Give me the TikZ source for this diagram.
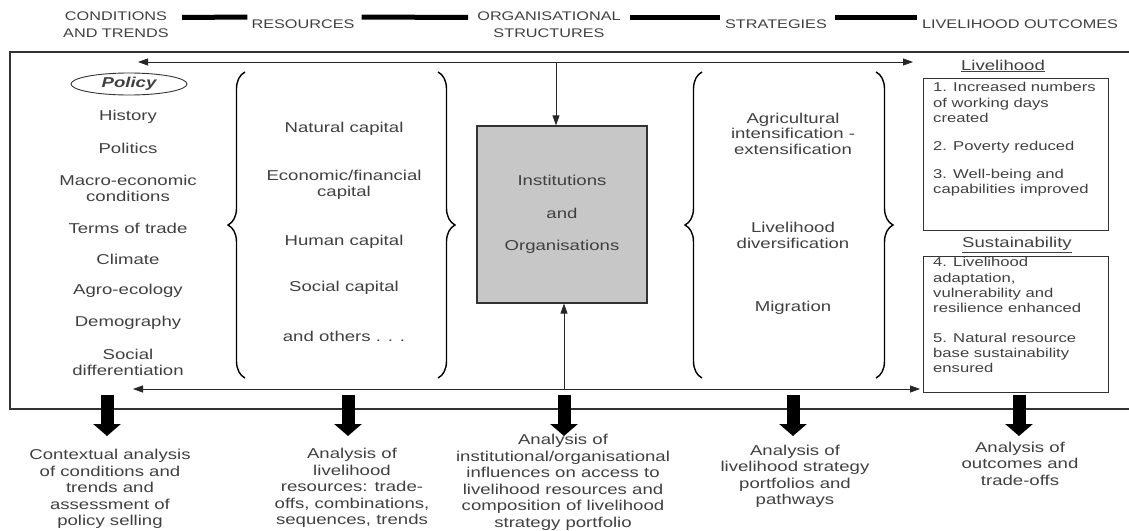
\documentclass[tikz,border=0pt]{standalone}
\usepackage{fontspec}
\setmainfont[FakeStretch=1.3]{Liberation Sans}
\usetikzlibrary{arrows.meta,shapes.geometric,decorations.pathreplacing,positioning}
\definecolor{txtgray}{gray}{0.25}
\definecolor{boxgray}{gray}{0.78}
\tikzset{
	lbl/.style={text=txtgray,font=\fontsize{14.3}{16.5}\selectfont,align=center,inner sep=0pt},
	head/.style={text=txtgray,font=\fontsize{12.5}{17}\selectfont,align=center,inner sep=0pt},
	outc/.style={text=txtgray,font=\fontsize{12.8}{15.3}\selectfont,align=left,anchor=north west,inner sep=0pt},
	thinarrow/.style={draw=black!85,line width=0.8pt,-{Triangle[length=10pt,width=7pt]}},
	bigarrow/.style={line width=13pt,-{Triangle[length=12pt,width=27pt]}},
	hbar/.style={line width=5pt},
	curly/.style={decorate,decoration={brace,amplitude=17pt},line width=1.4pt},
	outbox/.style={draw=black!80,line width=1pt,anchor=north west,inner sep=0pt},
}
\begin{document}
\begin{tikzpicture}[x=1pt,y=-1pt]
	\useasboundingbox (0,0) rectangle (1129,530);
	% column heads
	\node[head] (hd1) at (116,24.5) {CONDITIONS\\AND TRENDS};
	\node[head] (hd2) at (303,24) {RESOURCES};
	\node[head] (hd3) at (549,24.5) {ORGANISATIONAL\\STRUCTURES};
	\node[head] (hd4) at (776,24) {STRATEGIES};
	\node[head] (hd5) at (1020,24) {LIVELIHOOD OUTCOMES};
	\draw[hbar] ([xshift=13pt,yshift=7pt]hd1.east) -- ([xshift=-4pt,yshift=7pt]hd2.west);
	\draw[hbar] ([xshift=7pt,yshift=7pt]hd2.east) -- ([xshift=-9pt,yshift=7pt]hd3.west);
	\draw[hbar] ([xshift=9pt,yshift=7.5pt]hd3.east) -- ([xshift=-5pt,yshift=7pt]hd4.west);
	\draw[hbar] ([xshift=8pt,yshift=7pt]hd4.east) -- ([xshift=-5pt,yshift=7pt]hd5.west);
	% frame
	\draw[line width=2.6pt,black!80] (1129,52) -- (10,52) -- (10,409) -- (1129,409);
	% contexts
	\node[draw=black!80,line width=0.9pt,ellipse,minimum width=116pt,minimum height=22pt,inner sep=0pt,
		text=txtgray,font=\fontsize{14.3}{16.5}\selectfont\bfseries\itshape] (policy) at (129,84) {Policy};
	\node[lbl] (history) at (128,117) {History};
	\node[lbl] (politics) at (128,148) {Politics};
	\node[lbl] (macro) at (128,188.5) {Macro-economic\\conditions};
	\node[lbl] (terms) at (128,228) {Terms of trade};
	\node[lbl] (climate) at (128,259) {Climate};
	\node[lbl] (agro) at (128,291) {Agro-ecology};
	\node[lbl] (demog) at (128,323) {Demography};
	\node[lbl] (social) at (128,362.5) {Social\\differentiation};
	% resources
	\draw[curly] (245,378) -- (245,72);
	\draw[curly] (438,72) -- (438,378);
	\node[lbl] (natcap) at (344,129) {Natural capital};
	\node[lbl] (ecocap) at (344,185) {Economic/financial\\capital};
	\node[lbl] (humcap) at (344,242) {Human capital};
	\node[lbl] (soccap) at (344,288) {Social capital};
	\node[lbl] (others) at (344,336) {and others . . .};
	% institutions
	\node[draw=black!80,line width=1.2pt,fill=boxgray,minimum width=170pt,minimum height=177pt,
		lbl,inner sep=0pt] (inst) at (562,214.5) {Institutions\\[16pt]and\\[16pt]Organisations};
	\coordinate (topM) at (556,62);
	\coordinate (topL) at (138,62);
	\coordinate (topR) at (913,62);
	\coordinate (botM) at (564,389);
	\coordinate (botL) at (133,389);
	\coordinate (botR) at (920,389);
	\draw[thinarrow] (topM) -- (topL);
	\draw[thinarrow] (topM) -- (topR);
	\draw[thinarrow] (topM) -- (topM |- inst.north);
	\draw[thinarrow] (botM) -- (botL);
	\draw[thinarrow] (botM) -- (botR);
	\draw[thinarrow] (botM) -- (botM |- inst.south);
	% strategies
	\draw[curly] (702,378) -- (702,72);
	\draw[curly] (876,72) -- (876,378);
	\node[lbl,font=\fontsize{14.3}{15.5}\selectfont] (agric) at (793,133.5) {Agricultural\\intensification -\\extensification};
	\node[lbl,font=\fontsize{14.3}{15.5}\selectfont] (divers) at (793,235.5) {Livelihood\\diversification};
	\node[lbl] (migr) at (793,308) {Migration};
	% outcomes
	\node[lbl] (livh) at (1003,66) {\underline{Livelihood}};
	\node[outbox,minimum width=185pt,minimum height=152pt] (box1) at (923,78) {};
	\node[outc] (out1) at (933,82.5) {1. Increased numbers\\of working days\\created\\[13pt]2. Poverty reduced\\[12.5pt]3. Well-being and\\capabilities improved};
	\node[lbl] (sust) at (1017,245) {\underline{Sustainability}};
	\node[outbox,minimum width=185pt,minimum height=136pt] (box2) at (923,256) {};
	\node[outc] (out2) at (933,257.5) {4. Livelihood\\adaptation,\\vulnerability and\\resilience enhanced\\[14pt]5. Natural resource\\base sustainability\\ensured};
	% analyses
	\node[lbl] (ana1) at (110,489) {Contextual analysis\\of conditions and\\trends and\\assessment of\\policy selling};
	\node[lbl] (ana2) at (352,488) {Analysis of\\livelihood\\resources: trade-\\offs, combinations,\\sequences, trends};
	\node[lbl] (ana3) at (563,482.5) {Analysis of\\institutional/organisational\\influences on access to\\livelihood resources and\\composition of livelihood\\strategy portfolio};
	\node[lbl] (ana4) at (795,476.5) {Analysis of\\livelihood strategy\\portfolios and\\pathways};
	\node[lbl] (ana5) at (1020,463.5) {Analysis of\\outcomes and\\trade-offs};
	\foreach \n/\x in {1/107,2/348,3/564,4/793,5/1019}{
		\coordinate (s\n) at (\x,395);
		\coordinate (e\n) at (\x,436);
		\draw[bigarrow] (s\n) -- (e\n);
	}
\end{tikzpicture}
\end{document}
